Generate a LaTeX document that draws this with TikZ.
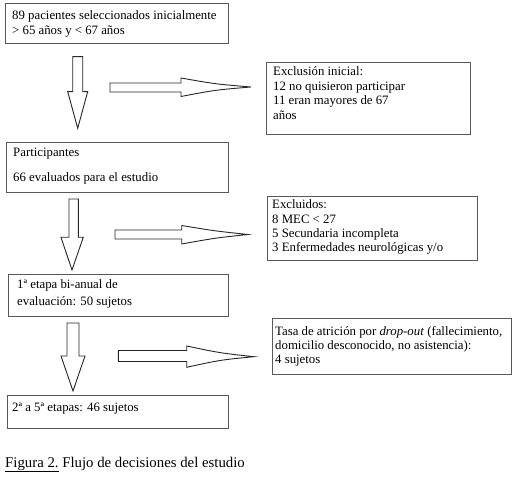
\documentclass[tikz,border=0pt]{standalone}
\usepackage{fontspec}
\setmainfont{Liberation Serif}
\begin{document}
\begin{tikzpicture}[x=1pt,y=-1pt,
  box/.style={draw=black!65, line width=0.9pt, inner sep=0pt, anchor=north west},
  txt/.style={anchor=base west, inner sep=0pt, font=\fontsize{12.8}{14}\selectfont},
  blockarrow/.style={draw=black!85, line width=0.9pt, fill=white, line join=miter}]
\useasboundingbox (0,0) rectangle (515,484);
% boxes
\node[box, minimum width=223, minimum height=40] (b1) at (5,3) {};
\node[box, minimum width=204, minimum height=72] (b2) at (266,62) {};
\node[box, minimum width=222, minimum height=50] (b3) at (6,142) {};
\node[box, minimum width=210, minimum height=64] (b4) at (267,196) {};
\node[box, minimum width=220, minimum height=42] (b5) at (8,274) {};
\node[box, minimum width=239, minimum height=56] (b6) at (272,318) {};
\node[box, minimum width=221, minimum height=33] (b7) at (7,395) {};
% texts
\node[txt] (t1a) at (12,20) {89 pacientes seleccionados inicialmente};
\node[txt] (t1b) at (12,35) {> 65 años y < 67 años};
\node[txt] (t2a) at (273,75.5) {Exclusión inicial:};
\node[txt] (t2b) at (273,90.5) {12 no quisieron participar};
\node[txt] (t2c) at (273,105) {11 eran mayores de 67};
\node[txt] (t2d) at (273,119.5) {años};
\node[txt] (t3a) at (13,157) {Participantes};
\node[txt] (t3b) at (13,182) {66 evaluados para el estudio};
\node[txt] (t4a) at (272,208.5) {Excluidos:};
\node[txt] (t4b) at (272,223.5) {8 MEC < 27};
\node[txt] (t4c) at (272,238) {5 Secundaria incompleta};
\node[txt] (t4d) at (272,252) {3 Enfermedades neurológicas y/o};
\node[txt] (t5a) at (17,289) {1ª etapa bi-anual de};
\node[txt] (t5b) at (17,306) {evaluación: 50 sujetos};
\node[txt] (t6a) at (275,336) {Tasa de atrición por \textit{drop-out} (fallecimiento,};
\node[txt] (t6b) at (275,350) {domicilio desconocido, no asistencia):};
\node[txt] (t6c) at (275,363.5) {4 sujetos};
\node[txt] (t7a) at (12,412) {2ª a 5ª etapas: 46 sujetos};
\node[txt, font=\fontsize{14.8}{17}\selectfont] (cap) at (5,467) {\underline{Figura 2.} Flujo de decisiones del estudio};
% down block arrows
\draw[blockarrow] (72.7,56.7) -- (82.7,56.7) -- (82.7,91.7) -- (87.7,91.7) -- (77.7,128.3) -- (67.7,91.7) -- (72.7,91.7) -- cycle;
\draw[blockarrow] (69,199) -- (78.3,199) -- (78.3,237.3) -- (83.3,237.3) -- (72,270) -- (61,237.3) -- (69,237.3) -- cycle;
\draw[blockarrow] (67,323) -- (79,323) -- (79,356) -- (85,356) -- (73,391) -- (61,356) -- (67,356) -- cycle;
% right block arrows
\draw[blockarrow] (110,83) -- (181,83) -- (181,78) .. controls (215,84) .. (251,87) .. controls (215,90) .. (181,96.5) -- (181,92) -- (110,92) -- cycle;
\draw[blockarrow] (115,230) -- (181.7,230) -- (181.7,225.5) .. controls (215,231) .. (248,234.5) .. controls (215,238) .. (181.7,244) -- (181.7,239) -- (115,239) -- cycle;
\draw[blockarrow] (118.3,350.5) -- (186.7,350.5) -- (186.7,346) .. controls (220,353) .. (254,356.7) .. controls (220,360) .. (186.7,367.3) -- (186.7,361.5) -- (118.3,361.5) -- cycle;
\end{tikzpicture}
\end{document}
